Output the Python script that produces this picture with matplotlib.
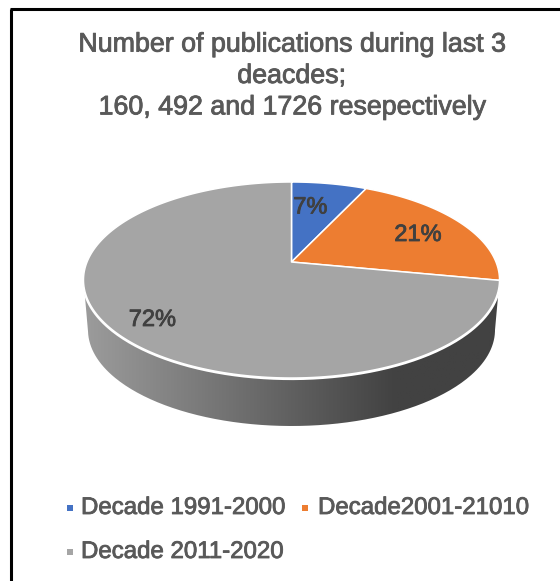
import numpy as np
import matplotlib
matplotlib.use("Agg")
import matplotlib.pyplot as plt
import matplotlib.patheffects as pe
from matplotlib.patches import PathPatch, Polygon
from matplotlib.path import Path
from matplotlib.colors import LinearSegmentedColormap

title_text = "Number of publications during last 3\ndeacdes;\n160, 492 and 1726 resepectively"
categories = ["Decade 1991-2000", "Decade2001-21010", "Decade 2011-2020"]
shares = [7, 21, 72]
labels = ["7%", "21%", "72%"]
colors = ["#4472C4", "#ED7D31", "#A5A5A5"]

plt.rcParams["font.family"] = ["Liberation Sans", "DejaVu Sans"]
fig = plt.figure(figsize=(5.6, 5.81), dpi=100)
ax = fig.add_axes([0, 0, 1, 1])
ax.set_xlim(0, 560)
ax.set_ylim(581, 0)
ax.axis("off")
bold = [pe.withStroke(linewidth=0.6, foreground="#595959")]
bold2 = [pe.withStroke(linewidth=0.6, foreground="#404040")]

# perspective projection of the pie disc
XC, YC, A, B, K = 291.5, 262.0, 204.5, 94.7, 0.1837
def project(theta_deg):
    t = np.radians(theta_deg)
    u, v = np.sin(t), np.cos(t)
    d = 1 + K * v
    return XC + A * u / d, YC - B * v / d

# side wall
front = np.linspace(0, np.pi, 200)
side = np.r_[np.c_[291.5 + 208 * np.cos(front), 280 + 98 * np.sin(front)],
             np.c_[291.5 + 203.5 * np.cos(front[::-1]), 330 + 96 * np.sin(front[::-1])]]
cmap = LinearSegmentedColormap.from_list("side", [(0, "#9c9c9c"), (0.75, "#424242"), (1, "#424242")])
im = ax.imshow(np.linspace(0, 1, 256)[None, :], cmap=cmap, extent=(83, 500, 430, 275), aspect="auto", zorder=1)
im.set_clip_path(PathPatch(Path(side), transform=ax.transData))
ax.set_xlim(0, 560)
ax.set_ylim(581, 0)
ax.plot(291.5 + 208.5 * np.cos(front), 280.5 + 98.5 * np.sin(front), color="white", lw=1.6, zorder=2)

# slices
start = 0.0
for s, c in zip(shares, colors):
    end = start + s * 3.6
    a = np.linspace(start, end, 200)
    x, y = project(a)
    pts = np.r_[[[XC, YC]], np.c_[x, y]]
    ax.add_patch(Polygon(pts, closed=True, facecolor=c, edgecolor="white", lw=1.1, zorder=3, joinstyle="round"))
    start = end

# value labels
for txt, (lx, ly) in zip(labels, [(310.5, 207.5), (418, 235), (152.5, 320)]):
    ax.text(lx, ly, txt, ha="center", va="center", fontsize=17, color="#404040", zorder=5, path_effects=bold2)

# title
ax.text(291.5, 76, title_text, ha="center", va="center", fontsize=19.3, color="#595959", linespacing=1.27,
        multialignment="center", path_effects=bold)

# legend
for name, c, mx, tx, ty in zip(categories, colors, [69.5, 305, 69.5], [81, 318, 81], [508, 508, 552]):
    ax.scatter([mx], [ty], marker="s", s=21, color=c, linewidths=0, zorder=5)
    ax.text(tx, ty, name, ha="left", va="center", fontsize=17.3, color="#595959", path_effects=bold)

# frame
ax.plot([11, 11], [581, 9], color="black", lw=2.2, solid_capstyle="butt", zorder=6)
ax.plot([10, 560], [9, 9], color="black", lw=2.2, solid_capstyle="butt", zorder=6)

fig.savefig("out.png", dpi=100, facecolor="white")
